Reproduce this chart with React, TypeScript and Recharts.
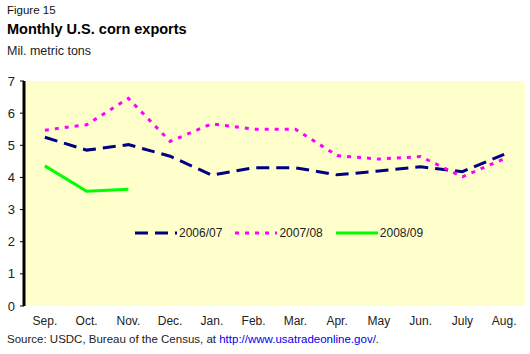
import { LineChart, Line, XAxis, YAxis, CartesianGrid, Legend } from 'recharts'

const MONTHS = ['Sep.', 'Oct.', 'Nov.', 'Dec.', 'Jan.', 'Feb.', 'Mar.', 'Apr.', 'May', 'Jun.', 'July', 'Aug.']
const Y_TICKS = [0, 1, 2, 3, 4, 5, 6, 7]

const EXPORTS_0607 = [5.25, 4.85, 5.02, 4.66, 4.07, 4.3, 4.3, 4.08, 4.2, 4.33, 4.18, 4.72]
const EXPORTS_0708 = [5.47, 5.64, 6.46, 5.12, 5.67, 5.5, 5.5, 4.68, 4.57, 4.65, 4.02, 4.58]
const EXPORTS_0809 = [4.36, 3.57, 3.63]

const SERIES = [
  { key: 'y0607', name: '2006/07', color: '#000080', dash: '13 7' },
  { key: 'y0708', name: '2007/08', color: '#FF00FF', dash: '4 6' },
  { key: 'y0809', name: '2008/09', color: '#00FF00', dash: undefined },
]

// month index + 0.5 puts each point in the middle of its month slot
const rows = MONTHS.map((m, i) => ({
  pos: i + 0.5,
  month: m,
  y0607: EXPORTS_0607[i],
  y0708: EXPORTS_0708[i],
  y0809: EXPORTS_0809[i] ?? null,
}))

const FONT = '"Liberation Sans", Arial, sans-serif'
const TICK_STYLE = { fill: '#222', fontSize: 12, fontFamily: FONT }

function SeriesLegend() {
  return (
    <div style={{ display: 'flex', alignItems: 'center', fontFamily: FONT, fontSize: 12, color: '#222' }}>
      {SERIES.map((s) => (
        <div key={s.key} style={{ display: 'flex', alignItems: 'center', marginRight: 12 }}>
          <svg width={44} height={8}>
            <line x1={1} y1={4} x2={43} y2={4} stroke={s.color} strokeWidth={3} strokeDasharray={s.dash} />
          </svg>
          <span style={{ marginLeft: 1 }}>{s.name}</span>
        </div>
      ))}
    </div>
  )
}

export default function App() {
  return (
    <div style={{ position: 'absolute', left: 0, top: 0, width: 530, height: 354, background: '#fff', fontFamily: FONT }}>
      <div style={{ position: 'absolute', left: 7, top: 4, fontSize: 11.5, color: '#111' }}>Figure 15</div>
      <div style={{ position: 'absolute', left: 7, top: 21, fontSize: 14.5, fontWeight: 'bold', color: '#000' }}>
        Monthly U.S. corn exports
      </div>
      <div style={{ position: 'absolute', left: 7, top: 44, fontSize: 12.5, color: '#222' }}>Mil. metric tons</div>

      <div style={{ position: 'absolute', left: 0, top: 0 }}>
        <LineChart width={530} height={354} data={rows} margin={{ top: 81, right: 5, bottom: 28, left: 0 }}>
          <CartesianGrid fill="#FFFFCC" horizontal={false} vertical={false} />
          <XAxis
            xAxisId="marks"
            dataKey="pos"
            type="number"
            domain={[0, 12]}
            ticks={[0, 1, 2, 3, 4, 5, 6, 7, 8, 9, 10, 11, 12]}
            tick={false}
            tickSize={4}
            height={0}
            axisLine={{ stroke: '#000', strokeWidth: 3 }}
            tickLine={{ stroke: '#000' }}
          />
          <XAxis
            xAxisId="labels"
            dataKey="pos"
            type="number"
            domain={[0, 12]}
            ticks={rows.map((r) => r.pos)}
            tickFormatter={(v: number) => MONTHS[Math.floor(v)]}
            tick={TICK_STYLE}
            tickLine={false}
            axisLine={false}
            tickMargin={4}
            height={20}
          />
          <XAxis
            xAxisId="top"
            orientation="top"
            type="number"
            domain={[0, 12]}
            tick={false}
            tickLine={false}
            height={0}
            axisLine={{ stroke: '#000', strokeWidth: 4 }}
          />
          <YAxis
            domain={[0, 7]}
            ticks={Y_TICKS}
            width={24}
            tick={{ ...TICK_STYLE, fontSize: 13 }}
            tickSize={4}
            tickMargin={5}
            interval={0}
            axisLine={{ stroke: '#000', strokeWidth: 3 }}
            tickLine={{ stroke: '#000' }}
          />
          <YAxis
            yAxisId="right"
            orientation="right"
            domain={[0, 7]}
            width={0}
            tick={false}
            tickLine={false}
            axisLine={{ stroke: '#888', strokeWidth: 2 }}
          />
          {SERIES.map((s) => (
            <Line
              key={s.key}
              xAxisId="marks"
              dataKey={s.key}
              name={s.name}
              stroke={s.color}
              strokeWidth={3}
              strokeDasharray={s.dash}
              dot={false}
              activeDot={false}
              connectNulls={false}
              isAnimationActive={false}
            />
          ))}
          <Legend
            content={<SeriesLegend />}
            layout="vertical"
            verticalAlign="middle"
            align="center"
            wrapperStyle={{ position: 'absolute', left: 134, top: 226, width: 320 }}
          />
        </LineChart>
      </div>

      <div style={{ position: 'absolute', left: 7, top: 333, fontSize: 11.5, color: '#222' }}>
        Source: USDC, Bureau of the Census, at <span style={{ color: '#0000EE' }}>http://www.usatradeonline.gov/</span>.
      </div>
    </div>
  )
}
